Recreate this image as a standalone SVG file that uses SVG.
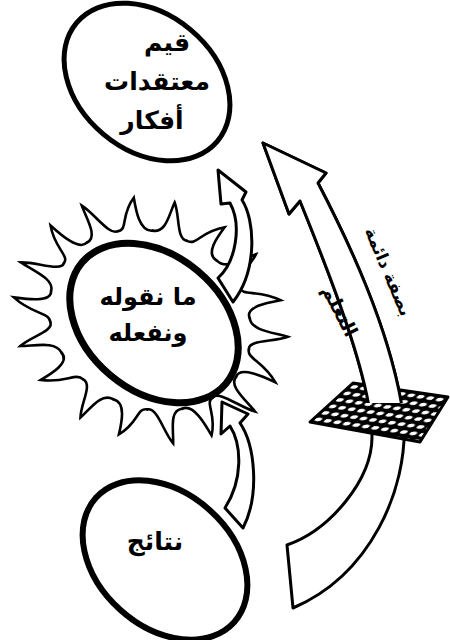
<svg xmlns="http://www.w3.org/2000/svg" xmlns:xlink="http://www.w3.org/1999/xlink" width="450" height="640" viewBox="0 0 450 640">
  <style>
    .oval { fill: #fff; stroke: #000; }
    .lbl { font-family: "DejaVu Sans", "Noto Sans", sans-serif; font-weight: bold; fill: #000; text-anchor: middle; }
    .arrow { fill: #fff; stroke: #000; stroke-width: 3; stroke-linejoin: round; }
    .ray { fill: none; stroke: #000; stroke-width: 2.6; stroke-linecap: round; vector-effect: non-scaling-stroke; }
  </style>
  <defs>
    <path id="spike" class="ray" d="M72.9,-12.85 C74,-5 86,-9 100,3 C90,3 72,3 72.9,12.85"/>
    <path id="spike2" class="ray" d="M72.9,-12.85 C74,-3 90,-4 101,-2 C91,4 72,5 72.9,12.85"/>
    <pattern id="mesh" patternUnits="userSpaceOnUse" width="1" height="1" patternTransform="matrix(9.5,1.4,-7.167,6.5,353,383)">
      <rect x="0" y="0" width="1" height="1" fill="#000"/>
      <ellipse cx="0.5" cy="0.5" rx="0.34" ry="0.28" fill="#fff"/>
    </pattern>
    <clipPath id="upperShaft">
      <rect x="240" y="100" width="210" height="303"/>
    </clipPath>
  </defs>
  <rect width="450" height="640" fill="#fff"/>

  <g id="node-actions">
    <g transform="translate(150,320) rotate(25) scale(1.4,1.18)">
      <use xlink:href="#spike" transform="rotate(0)"/>
      <use xlink:href="#spike2" transform="rotate(20)"/>
      <use xlink:href="#spike" transform="rotate(40)"/>
      <use xlink:href="#spike2" transform="rotate(60)"/>
      <use xlink:href="#spike" transform="rotate(80)"/>
      <use xlink:href="#spike2" transform="rotate(100)"/>
      <use xlink:href="#spike" transform="rotate(120)"/>
      <use xlink:href="#spike2" transform="rotate(140)"/>
      <use xlink:href="#spike" transform="rotate(160)"/>
      <use xlink:href="#spike2" transform="rotate(180)"/>
      <use xlink:href="#spike" transform="rotate(200)"/>
      <use xlink:href="#spike2" transform="rotate(220)"/>
      <use xlink:href="#spike" transform="rotate(240)"/>
      <use xlink:href="#spike2" transform="rotate(260)"/>
      <use xlink:href="#spike" transform="rotate(280)"/>
      <use xlink:href="#spike2" transform="rotate(300)"/>
      <use xlink:href="#spike" transform="rotate(320)"/>
      <use xlink:href="#spike2" transform="rotate(340)"/>
    </g>
    <ellipse class="oval" cx="154" cy="323" rx="94" ry="68" transform="rotate(40 154 323)" stroke-width="7"/>
    <text class="lbl" x="148" y="305" font-size="24">ما نقوله</text>
    <text class="lbl" x="148" y="341" font-size="24">ونفعله</text>
  </g>

  <g id="node-values">
    <ellipse class="oval" cx="147" cy="82" rx="92" ry="68" transform="rotate(40 147 82)" stroke-width="5"/>
    <text class="lbl" x="167" y="51" font-size="25">قيم</text>
    <text class="lbl" x="157" y="90" font-size="25">معتقدات</text>
    <text class="lbl" x="152" y="129" font-size="25">أفكار</text>
  </g>

  <g id="node-results">
    <ellipse class="oval" cx="165" cy="560" rx="93" ry="67" transform="rotate(42 165 560)" stroke-width="6"/>
    <text class="lbl" x="155" y="550" font-size="25">نتائج</text>
  </g>

  <g id="connectors">
    <path id="arrow-results-actions" class="arrow" d="M222,402 L248,414 L240,423 C255,445 260,495 243,528 L225,508 C243,480 242,445 230,426 L221,434 Z"/>
    <path id="arrow-actions-values" class="arrow" d="M218,170 L246,192 L242,200 C255,220 258,270 233,302 L218,278 C236,262 242,225 230,203 L221,204 Z"/>
    <g id="arrow-learning">
      <path class="arrow" d="M263,143 L326,173 L318,183 C345,235 392,330 404,420 C408,490 370,575 293,608 L287,545 C330,530 372,480 372,437 C372,380 328,270 300,201 L289,214 Z"/>
      <polygon id="filter-grid" points="353,383 448,397 420,442 310,422" fill="url(#mesh)" stroke="#000" stroke-width="3" stroke-linejoin="round"/>
      <path class="arrow" clip-path="url(#upperShaft)" d="M263,143 L326,173 L318,183 C345,235 392,330 404,420 C408,490 370,575 293,608 L287,545 C330,530 372,480 372,437 C372,380 328,270 300,201 L289,214 Z"/>
      <text class="lbl" x="0" y="0" font-size="19" transform="translate(334,314) rotate(63)">التعلم</text>
      <text class="lbl" x="0" y="0" font-size="17" transform="translate(383,274) rotate(67)">بصفة دائمة</text>
    </g>
  </g>
</svg>
